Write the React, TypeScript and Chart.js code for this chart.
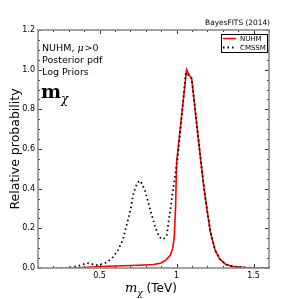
import React, { useEffect, useRef } from "react";
import { Chart, registerables } from "chart.js";

Chart.register(...registerables);

const nuhmX = [0.33, 0.45, 0.6, 0.75, 0.85, 0.9, 0.93, 0.96, 0.975, 0.985, 0.993, 1.0, 1.03, 1.065, 1.08, 1.098, 1.13, 1.163, 1.18, 1.2, 1.22, 1.25, 1.28, 1.32, 1.37, 1.45, 1.6];
const nuhmY = [0, 0.005, 0.01, 0.014, 0.018, 0.025, 0.04, 0.065, 0.1, 0.16, 0.3, 0.53, 0.75, 1.0, 0.975, 0.955, 0.73, 0.5, 0.39, 0.28, 0.18, 0.09, 0.045, 0.018, 0.007, 0.002, 0];

const cmssmX = [0.22, 0.3, 0.36, 0.4, 0.42, 0.45, 0.48, 0.52, 0.55, 0.59, 0.62, 0.65, 0.7, 0.72, 0.745, 0.765, 0.795, 0.83, 0.86, 0.885, 0.903, 0.92, 0.936, 0.968, 1.005, 1.03, 1.06, 1.08, 1.098, 1.13, 1.163, 1.18, 1.2, 1.22, 1.25, 1.28, 1.32, 1.37, 1.45, 1.6];
const cmssmY = [0, 0, 0.01, 0.02, 0.025, 0.02, 0.015, 0.02, 0.03, 0.057, 0.09, 0.14, 0.29, 0.377, 0.43, 0.44, 0.39, 0.29, 0.21, 0.16, 0.145, 0.15, 0.166, 0.343, 0.545, 0.74, 0.985, 0.97, 0.955, 0.73, 0.5, 0.39, 0.28, 0.18, 0.09, 0.045, 0.018, 0.007, 0.002, 0];

const xTicks = [0.5, 1, 1.5];
const yTicks = [0, 0.2, 0.4, 0.6, 0.8, 1.0, 1.2];
const seriesNames = ["NUHM", "CMSSM"];
const titleText = "BayesFITS (2014)";
const infoLines = ["Posterior pdf", "Log Priors"];
const yAxisTitle = "Relative probability";

const SANS = "'DejaVu Sans', sans-serif";
const SERIF = "'DejaVu Serif', serif";

const overlay = {
  id: "overlay",
  afterDraw(chart: any) {
    const ctx = chart.ctx;
    const { left, right, top, bottom } = chart.chartArea;
    const xs = chart.scales.x;
    const ys = chart.scales.y;
    ctx.save();
    // ticks
    ctx.strokeStyle = "#333";
    ctx.lineWidth = 1;
    ctx.beginPath();
    for (let i = 1; i <= 16; i++) {
      const v = i / 10;
      const px = Math.round(xs.getPixelForValue(v)) + 0.5;
      const major = Math.abs(v * 2 - Math.round(v * 2)) < 1e-6;
      const len = major ? 4 : 2;
      ctx.moveTo(px, bottom);
      ctx.lineTo(px, bottom - len);
      ctx.moveTo(px, top);
      ctx.lineTo(px, top + len);
    }
    for (let i = 0; i <= 24; i++) {
      const v = i * 0.05;
      const py = Math.round(ys.getPixelForValue(v)) + 0.5;
      const major = i % 4 === 0;
      const len = major ? 4 : 2;
      ctx.moveTo(left, py);
      ctx.lineTo(left + len, py);
      ctx.moveTo(right, py);
      ctx.lineTo(right - len, py);
    }
    ctx.stroke();
    // frame
    ctx.strokeStyle = "#8c8c8c";
    ctx.lineWidth = 1.6;
    ctx.strokeRect(left, top, right - left, bottom - top);

    // title
    ctx.fillStyle = "#000";
    ctx.font = `7.4px ${SANS}`;
    ctx.textAlign = "right";
    ctx.textBaseline = "alphabetic";
    ctx.fillText(titleText, right + 1, 25);

    // info text
    ctx.textAlign = "left";
    ctx.font = `9.5px ${SANS}`;
    const t1 = "NUHM, ";
    ctx.fillText(t1, 42, 51);
    let w = ctx.measureText(t1).width;
    ctx.font = `italic 9.5px ${SERIF}`;
    ctx.fillText("\u03bc", 42 + w, 51);
    w += ctx.measureText("\u03bc").width + 1;
    ctx.font = `9.5px ${SERIF}`;
    ctx.fillText(">0", 42 + w, 51);
    ctx.font = `9.5px ${SANS}`;
    ctx.fillText(infoLines[0], 42, 63);
    ctx.fillText(infoLines[1], 42, 75);

    // big m_chi
    ctx.font = `bold 19px ${SERIF}`;
    ctx.fillText("m", 41, 98);
    const mw = ctx.measureText("m").width;
    ctx.font = `italic 12px ${SERIF}`;
    ctx.fillText("\u03c7", 41 + mw, 103);

    // legend
    const lx = 221, ly = 34, lw = 46, lh = 18;
    ctx.fillStyle = "#fff";
    ctx.fillRect(lx, ly, lw, lh);
    ctx.strokeStyle = "#000";
    ctx.lineWidth = 1;
    ctx.strokeRect(lx + 0.5, ly + 0.5, lw, lh);
    ctx.strokeStyle = "#ff0000";
    ctx.lineWidth = 1.5;
    ctx.beginPath();
    ctx.moveTo(223, 38.5);
    ctx.lineTo(236, 38.5);
    ctx.stroke();
    ctx.strokeStyle = "#000";
    ctx.lineWidth = 1.8;
    ctx.setLineDash([1.5, 3]);
    ctx.beginPath();
    ctx.moveTo(223, 47.5);
    ctx.lineTo(236, 47.5);
    ctx.stroke();
    ctx.setLineDash([]);
    ctx.fillStyle = "#000";
    ctx.font = `7px ${SANS}`;
    ctx.textBaseline = "middle";
    ctx.fillText(seriesNames[0], 240, 39);
    ctx.fillText(seriesNames[1], 240, 48);

    // x axis title
    ctx.textBaseline = "alphabetic";
    ctx.font = `italic 13px ${SERIF}`;
    const xt0 = 125;
    ctx.fillText("m", xt0, 292);
    const xw = ctx.measureText("m").width;
    ctx.font = `italic 9px ${SERIF}`;
    ctx.fillText("\u03c7", xt0 + xw, 296);
    const cw = ctx.measureText("\u03c7").width;
    ctx.font = `12px ${SANS}`;
    ctx.fillText(" (TeV)", xt0 + xw + cw, 292);

    // y axis title
    ctx.translate(19, (top + bottom) / 2);
    ctx.rotate(-Math.PI / 2);
    ctx.textAlign = "center";
    ctx.font = `12.5px ${SANS}`;
    ctx.fillText(yAxisTitle, 0, 0);
    ctx.restore();
  },
};

export default function App() {
  const ref = useRef<HTMLCanvasElement | null>(null);
  useEffect(() => {
    if (!ref.current) return;
    const chart = new Chart(ref.current, {
      type: "line",
      data: {
        datasets: [
          {
            label: seriesNames[1],
            data: cmssmX.map((x, i) => ({ x, y: cmssmY[i] })),
            borderColor: "#000",
            borderWidth: 1.8,
            borderDash: [1.5, 3],
            pointRadius: 0,
            fill: false,
            tension: 0,
            order: 0,
          },
          {
            label: seriesNames[0],
            data: nuhmX.map((x, i) => ({ x, y: nuhmY[i] })),
            borderColor: "#ff0000",
            borderWidth: 1.6,
            pointRadius: 0,
            fill: false,
            tension: 0,
            order: 1,
          },
        ],
      },
      options: {
        animation: false,
        responsive: false,
        maintainAspectRatio: false,
        devicePixelRatio: 1,
        layout: { padding: { top: 30, right: 30, left: 0, bottom: 0 } },
        plugins: { legend: { display: false }, tooltip: { enabled: false }, title: { display: false } },
        scales: {
          x: {
            type: "linear",
            min: 0.1,
            max: 1.6,
            grid: { display: false, drawTicks: false },
            border: { display: false },
            afterBuildTicks: (s: any) => {
              s.ticks = xTicks.map((v) => ({ value: v }));
            },
            afterFit: (s: any) => {
              s.height = 31;
            },
            ticks: {
              padding: 3,
              color: "#000",
              font: { family: "DejaVu Sans", size: 8 },
              maxRotation: 0,
              callback: (v: any) => String(v),
            },
          },
          y: {
            type: "linear",
            min: 0,
            max: 1.2,
            grid: { display: false, drawTicks: false },
            border: { display: false },
            afterBuildTicks: (s: any) => {
              s.ticks = yTicks.map((v) => ({ value: v }));
            },
            afterFit: (s: any) => {
              s.width = 38;
            },
            ticks: {
              padding: 3,
              color: "#000",
              font: { family: "DejaVu Sans", size: 8 },
              callback: (v: any) => Number(v).toFixed(1),
            },
          },
        },
      },
      plugins: [overlay],
    });
    return () => chart.destroy();
  }, []);
  return (
    <div style={{ position: "absolute", left: 0, top: 0, width: 299, height: 299, background: "#fff" }}>
      <canvas ref={ref} width={299} height={299} style={{ width: 299, height: 299 }} />
    </div>
  );
}
